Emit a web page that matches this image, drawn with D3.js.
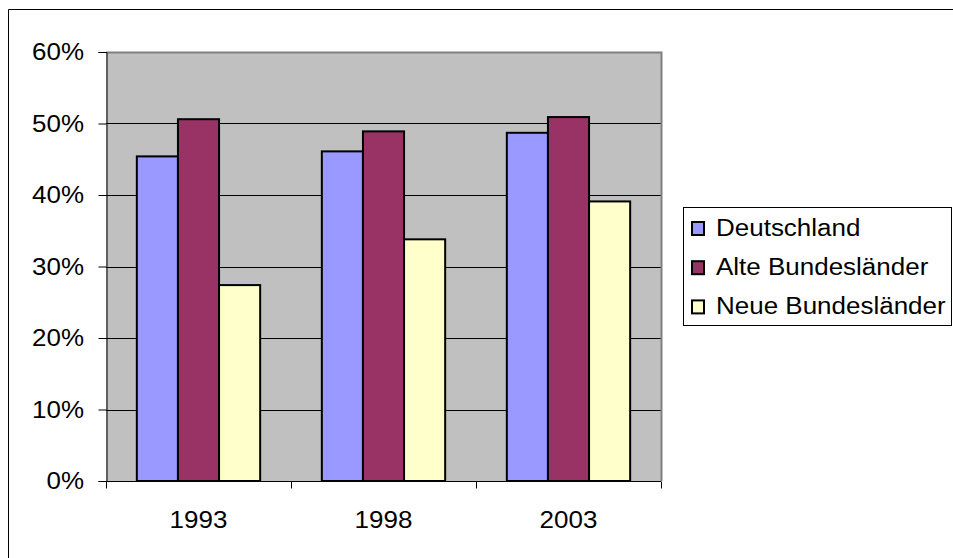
<!DOCTYPE html>
<html>
<head>
<meta charset="utf-8">
<script src="https://cdn.jsdelivr.net/npm/d3@7"></script>
<style>
  html, body { margin: 0; padding: 0; background: #fff; }
  svg { display: block; }
  text { font-family: "Liberation Sans", Arial, sans-serif; fill: #000; font-size: 23px; }
</style>
</head>
<body>
<svg id="chart" width="953" height="558"></svg>
<script>
// Share of households per region and survey year
const years = ["1993", "1998", "2003"];
const seriesNames = ["Deutschland", "Alte Bundesländer", "Neue Bundesländer"];
const deutschland = [0.454, 0.461, 0.487];
const alteLaender = [0.506, 0.489, 0.509];
const neueLaender = [0.274, 0.338, 0.391];
const seriesColors = ["#9999FF", "#993366", "#FFFFCC"];
const yTicks = [0, 0.1, 0.2, 0.3, 0.4, 0.5, 0.6];

const seriesValues = [deutschland, alteLaender, neueLaender];
const STRETCH = 1.13; // labels are drawn slightly wide

const svg = d3.select("#chart");
const plot = { left: 106, top: 52, right: 661, bottom: 481 };

// place a horizontally stretched label at (px, py)
function label(parent, px, py, str, anchor) {
  return parent.append("text")
    .attr("transform", `translate(${px},${py}) scale(${STRETCH},1)`)
    .attr("text-anchor", anchor || "start")
    .text(str);
}

// outer frame (only top and left edges visible)
svg.append("path")
  .attr("d", "M8.5,558 L8.5,9.5 L953,9.5")
  .attr("fill", "none").attr("stroke", "#000").attr("stroke-width", 1);

const x = d3.scaleBand().domain(years).range([plot.left, plot.right]).paddingInner(0).paddingOuter(0);
const inner = d3.scaleBand().domain(seriesNames).range([0, x.bandwidth()])
  .paddingInner(0).paddingOuter(0.75);
const y = d3.scaleLinear().domain([0, 0.6]).range([plot.bottom, plot.top]);

// plot area background
svg.append("rect")
  .attr("x", plot.left).attr("y", plot.top)
  .attr("width", plot.right - plot.left).attr("height", plot.bottom - plot.top)
  .attr("fill", "#C0C0C0");

// gridlines
svg.append("g").selectAll("line")
  .data(yTicks.filter(t => t > 0 && t < 0.6))
  .join("line")
  .attr("x1", plot.left).attr("x2", plot.right)
  .attr("y1", d => Math.round(y(d)) + 0.5).attr("y2", d => Math.round(y(d)) + 0.5)
  .attr("stroke", "#000").attr("stroke-width", 1);

// plot area border (top and right)
svg.append("path")
  .attr("d", `M${plot.left},${plot.top + 0.5} L${plot.right + 0.5},${plot.top + 0.5} L${plot.right + 0.5},${plot.bottom}`)
  .attr("fill", "none").attr("stroke", "#808080").attr("stroke-width", 2);

// bars
const groups = svg.append("g").selectAll("g")
  .data(years)
  .join("g")
  .attr("transform", d => `translate(${x(d)},0)`);

groups.selectAll("rect")
  .data((d, i) => seriesNames.map((s, j) => ({ s, j, v: seriesValues[j][i] })))
  .join("rect")
  .attr("x", d => inner(d.s))
  .attr("y", d => y(d.v))
  .attr("width", inner.bandwidth())
  .attr("height", d => y(0) - y(d.v))
  .attr("fill", d => seriesColors[d.j])
  .attr("stroke", "#000").attr("stroke-width", 2);

// y axis: line and ticks from d3, labels drawn separately
const yAxis = svg.append("g")
  .attr("transform", `translate(${plot.left + 0.5},0)`)
  .call(d3.axisLeft(y).tickValues(yTicks).tickFormat("").tickSize(8));
yAxis.select(".domain").attr("stroke", "#000");
yAxis.selectAll(".tick text").remove();
const fmt = d3.format(".0%");
const yLabels = svg.append("g");
yTicks.forEach(t => label(yLabels, 84, y(t) + 8, fmt(t), "end"));

// x axis with category boundary ticks
const xAxisG = svg.append("g").attr("transform", `translate(0,${plot.bottom + 0.5})`);
xAxisG.append("line")
  .attr("x1", plot.left).attr("x2", plot.right)
  .attr("stroke", "#000");
const boundaries = years.map(d => x(d)).concat([x(years[years.length - 1]) + x.bandwidth()]);
xAxisG.selectAll("line.tick")
  .data(boundaries)
  .join("line")
  .attr("class", "tick")
  .attr("x1", d => Math.round(d) + 0.5).attr("x2", d => Math.round(d) + 0.5)
  .attr("y1", 0).attr("y2", 7)
  .attr("stroke", "#000");
years.forEach(d => label(xAxisG, x(d) + x.bandwidth() / 2, 46.5, d, "middle"));

// legend
const legend = svg.append("g");
legend.append("rect")
  .attr("x", 683.5).attr("y", 207.5)
  .attr("width", 268).attr("height", 118)
  .attr("fill", "#fff").attr("stroke", "#000").attr("stroke-width", 1);
seriesNames.forEach((name, i) => {
  const base = 236 + i * 39.2;
  legend.append("rect")
    .attr("x", 692).attr("y", base - 14)
    .attr("width", 12).attr("height", 13)
    .attr("fill", seriesColors[i])
    .attr("stroke", "#000").attr("stroke-width", 2);
  label(legend, 716, base, name, "start");
});
</script>
</body>
</html>
